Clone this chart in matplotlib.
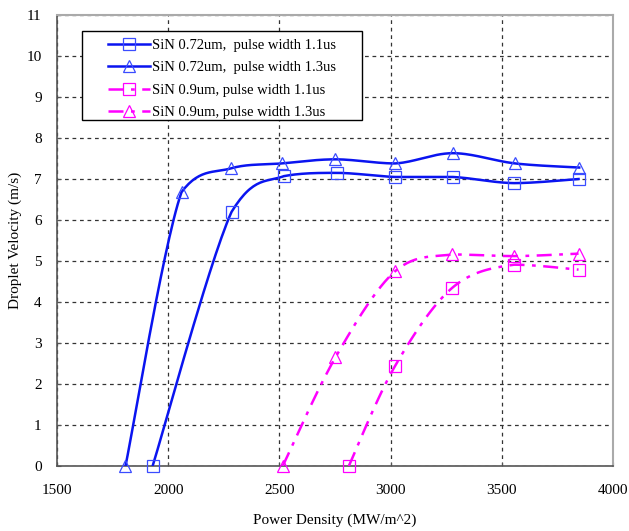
import numpy as np
import matplotlib
matplotlib.use('Agg')
import matplotlib.pyplot as plt
from matplotlib.patches import Rectangle

plt.rcParams['font.family'] = ['Liberation Serif', 'DejaVu Serif']

# Values
x_072_11 = [1930, 2285, 2520, 2760, 3020, 3280, 3555, 3845]
y_072_11 = [0.0, 6.2, 7.07, 7.15, 7.05, 7.05, 6.9, 7.0]

x_072_13 = [1808, 2060, 2282, 2510, 2752, 3020, 3280, 3560, 3848]
y_072_13 = [0.0, 6.68, 7.26, 7.38, 7.48, 7.38, 7.63, 7.38, 7.28]

x_09_11 = [2812, 3020, 3278, 3555, 3845]
y_09_11 = [0.0, 2.44, 4.35, 4.91, 4.79]

x_09_13 = [2515, 2752, 3020, 3278, 3555, 3845]
y_09_13 = [0.0, 2.65, 4.75, 5.16, 5.12, 5.18]

labels = ['SiN 0.72um,  pulse width 1.1us',
          'SiN 0.72um,  pulse width 1.3us',
          'SiN 0.9um, pulse width 1.1us',
          'SiN 0.9um, pulse width 1.3us']

BLUE = '#0a14f0'
BLUE_MK = '#3a4cff'
MAGENTA = '#ff00ff'
DASHDOT = (0, (6, 3, 1.5, 3))


def smooth_curve(ax, xs, ys, n=30):
    """Smoothed line: cubic Bezier through the points, done in screen space,
    control points clamped so the curve does not overshoot."""
    pts = ax.transData.transform(np.column_stack([xs, ys]))
    p = np.vstack([pts[0], pts, pts[-1]])
    out = []
    t = np.linspace(0, 1, n)[:, None]
    for i in range(1, len(p) - 2):
        p0, p1, p2, p3 = p[i - 1], p[i], p[i + 1], p[i + 2]
        c1 = p1 + (p2 - p0) / 6.0
        c2 = p2 - (p3 - p1) / 6.0
        lo, hi = min(p1[1], p2[1]), max(p1[1], p2[1])
        c1[1] = np.clip(c1[1], lo, hi)
        c2[1] = np.clip(c2[1], lo, hi)
        seg = ((1 - t) ** 3) * p1 + 3 * ((1 - t) ** 2) * t * c1 \
            + 3 * (1 - t) * t ** 2 * c2 + t ** 3 * p2
        out.append(seg)
    curve = ax.transData.inverted().transform(np.vstack(out))
    return curve[:, 0], curve[:, 1]


fig = plt.figure(figsize=(6.29, 5.31), dpi=100)
ax = fig.add_axes([0.0906, 0.1224, 0.884, 0.8493])
ax.set_xlim(1500, 4000)
ax.set_ylim(0, 11)

series = [
    (x_072_11, y_072_11, BLUE, BLUE_MK, '-', 's'),
    (x_072_13, y_072_13, BLUE, BLUE_MK, '-', '^'),
    (x_09_11, y_09_11, MAGENTA, MAGENTA, DASHDOT, 's'),
    (x_09_13, y_09_13, MAGENTA, MAGENTA, DASHDOT, '^'),
]

handles = []
for (xs, ys, col, mcol, ls, mk), lab in zip(series, labels):
    cx, cy = smooth_curve(ax, xs, ys)
    ax.plot(cx, cy, color=col, linestyle=ls, linewidth=1.8, zorder=3)
    ax.plot(xs, ys, linestyle='none', marker=mk, markersize=8,
            markerfacecolor='none', markeredgecolor=mcol, markeredgewidth=0.9,
            clip_on=False, zorder=4)
    h, = ax.plot([], [], color=col, linestyle=ls, linewidth=1.8, marker=mk,
                 markersize=8, markerfacecolor='none', markeredgecolor=mcol,
                 markeredgewidth=0.9, label=lab)
    handles.append(h)

ax.set_xticks(np.arange(1500, 4001, 500))
ax.set_yticks(np.arange(0, 12, 1))
ax.grid(True, color='#333333', linestyle=(0, (3, 3)), linewidth=0.9)
ax.set_axisbelow(True)
ax.tick_params(direction='in', length=3, labelsize=11, color='#555555')
ax.tick_params(axis='x', pad=13)
ax.tick_params(axis='y', pad=11)

for s in ['top', 'right']:
    ax.spines[s].set_color('#aaaaaa')
    ax.spines[s].set_linewidth(1.5)
for s in ['left', 'bottom']:
    ax.spines[s].set_color('#555555')
    ax.spines[s].set_linewidth(1.2)

ax.set_xlabel('Power Density (MW/m^2)', fontsize=11, labelpad=12)
ax.set_ylabel('Droplet Velocity (m/s)', fontsize=11, labelpad=3)

# legend frame drawn as its own box, entries placed inside it
ax.add_patch(Rectangle((0.045, 0.767), 0.504, 0.1975, transform=ax.transAxes,
                       facecolor='white', edgecolor='black', linewidth=1.0,
                       zorder=5))
leg = ax.legend(handles=handles, loc='upper left', bbox_to_anchor=(0.091, 0.947),
                fontsize=10.5, frameon=False, handlelength=2.9,
                handletextpad=0.15, labelspacing=0.62,
                borderpad=0, borderaxespad=0)
leg.set_zorder(6)

fig.savefig('out.png', dpi=100)
